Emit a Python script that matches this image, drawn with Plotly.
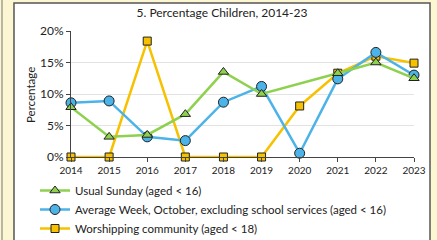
import plotly.graph_objects as go

years = [2014, 2015, 2016, 2017, 2018, 2019, 2020, 2021, 2022, 2023]
usual_sunday = [7.9, 3.2, 3.5, 6.8, 13.5, 10.0, None, 13.3, 15.0, 12.5]
average_week = [8.6, 8.9, 3.2, 2.6, 8.7, 11.2, 0.6, 12.4, 16.6, 13.0]
worshipping = [0.0, 0.0, 18.4, 0.0, 0.0, 0.0, 8.1, 13.3, 16.0, 14.9]
y_ticks = [0, 5, 10, 15, 20]
y_ticklabels = ["0%", "5%", "10%", "15%", "20%"]

FONT = "Lato"
W, H = 437, 240
L, R, T, B = 71, 23, 31, 83
pw, ph = W - L - R, H - T - B

def px(x):
    return (x - L) / pw

def py(y):
    return (H - B - y) / ph

fig = go.Figure()
fig.add_trace(go.Scatter(
    x=years, y=worshipping, name="Worshipping community (aged < 18)",
    mode="lines+markers", line=dict(color="#F7C100", width=2.5),
    marker=dict(symbol="square", size=8, color="#F7C100", line=dict(color="#222", width=1))))
fig.add_trace(go.Scatter(
    x=years, y=average_week, name="Average Week, October, excluding school services (aged < 16)",
    mode="lines+markers", line=dict(color="#4BB3E8", width=2.5),
    marker=dict(symbol="circle", size=10, color="#4BB3E8", line=dict(color="#222", width=1))))
fig.add_trace(go.Scatter(
    x=years, y=usual_sunday, name="Usual Sunday (aged < 16)", connectgaps=True,
    mode="lines+markers", line=dict(color="#8ED14F", width=2.5),
    marker=dict(symbol="triangle-up", size=9, color="#8ED14F", line=dict(color="#222", width=1))))

shapes = [
    dict(type="rect", xref="paper", yref="paper", layer="below",
         x0=px(14), x1=px(430), y0=py(250), y1=py(3),
         fillcolor="white", line=dict(color="#555", width=1.5)),
    dict(type="line", xref="paper", yref="paper", layer="below",
         x0=px(2), x1=px(2), y0=py(250), y1=py(-5),
         line=dict(color="#777", width=1)),
]

annotations = [
    dict(text="Percentage", xref="paper", yref="paper", x=px(30), y=py(95),
         xanchor="center", yanchor="middle", textangle=-90, showarrow=False,
         font=dict(size=11.5, color="#222")),
]

fig.update_layout(
    width=W, height=H,
    margin=dict(l=L, r=R, t=T, b=B, autoexpand=False),
    paper_bgcolor="#FDF6D3", plot_bgcolor="white",
    font=dict(family=FONT, size=11, color="#222"),
    title=dict(text="5. Percentage Children, 2014-23", x=222 / W, xref="container",
               y=1 - 13 / H, yref="container", xanchor="center", yanchor="middle",
               font=dict(size=12, color="#222")),
    shapes=shapes,
    annotations=annotations,
    showlegend=True,
    legend=dict(x=35 / W, y=1 - 176 / H, xref="container", yref="container",
                xanchor="left", yanchor="top",
                traceorder="reversed", bgcolor="rgba(0,0,0,0)",
                font=dict(size=11.5, color="#222"), itemwidth=30, tracegroupgap=0),
    xaxis=dict(range=[2014, 2023], tickmode="array", tickvals=years,
               ticks="outside", ticklen=4, tickcolor="#444", automargin=False,
               showline=True, linecolor="#444", linewidth=1,
               showgrid=False, zeroline=False,
               tickfont=dict(size=10, color="#222"), fixedrange=True),
    yaxis=dict(range=[0, 20], tickmode="array", tickvals=y_ticks, ticktext=y_ticklabels,
               ticks="outside", ticklen=4, tickcolor="#444", automargin=False,
               showline=True, linecolor="#444", linewidth=1,
               showgrid=True, gridcolor="#E3E3E3", gridwidth=1, zeroline=False,
               tickfont=dict(size=12, color="#222"), fixedrange=True),
)
fig.update_traces(cliponaxis=False)

fig.write_html("out.html", config={"displayModeBar": False},
               post_script="document.body.style.margin='0';document.body.style.padding='0';")
